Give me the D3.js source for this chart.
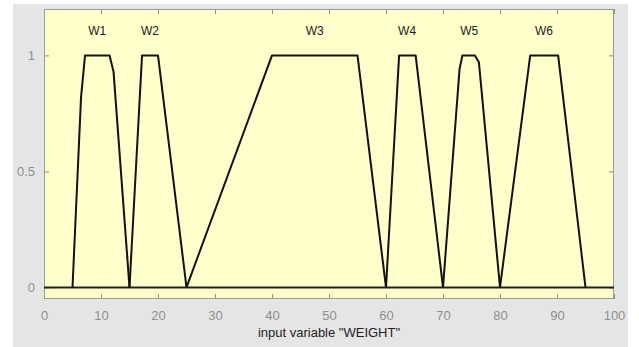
<!DOCTYPE html>
<html>
<head>
<meta charset="utf-8">
<script src="https://cdn.jsdelivr.net/npm/d3@7"></script>
<style>
  html, body { margin: 0; padding: 0; background: #fff; }
  svg { display: block; font-family: "Liberation Sans", Arial, sans-serif; }
</style>
</head>
<body>
<div id="container"></div>
<script>
// fonctions d'appartenance
const mfNames = ["W1", "W2", "W3", "W4", "W5", "W6"];
const mfX = [
    [5, 6.5, 7.2, 11.5, 12.2, 15],
    [15, 17.2, 20, 25],
    [25, 40, 55, 60],
    [60, 62.3, 65.2, 70],
    [70, 72.9, 73.4, 75.6, 76.3, 80],
    [80, 85.3, 90.2, 95]
];
const mfY = [
    [0, 0.82, 1, 1, 0.93, 0],
    [0, 1, 1, 0],
    [0, 1, 1, 0],
    [0, 1, 1, 0],
    [0, 0.94, 1, 1, 0.97, 0],
    [0, 1, 1, 0]
];
const labelX = [9.35, 18.6, 47.5, 63.7, 74.6, 87.7];
const xTicks = [0, 10, 20, 30, 40, 50, 60, 70, 80, 90, 100];
const yTicks = [0, 0.5, 1];
const xLabel = 'input variable "WEIGHT"';

const width = 639, height = 347;
const mLeft = 44, mRight = 614, mTop = 9, mBottom = 299;

const x = d3.scaleLinear().domain([0, 100]).range([mLeft, mRight]);
const y = d3.scaleLinear().domain([-0.05, 1.2]).range([mBottom, mTop]);

const svg = d3.select("#container").append("svg")
    .attr("width", width)
    .attr("height", height);

// fond gris de la figure
svg.append("rect")
    .attr("x", 13).attr("y", 4)
    .attr("width", 615).attr("height", height - 4)
    .attr("fill", "#e5e5e5");

// fond jaune des axes
svg.append("rect")
    .attr("x", mLeft).attr("y", mTop)
    .attr("width", mRight - mLeft).attr("height", mBottom - mTop)
    .attr("fill", "#ffffcc");

// axes (ticks vers l'intérieur)
const tickCol = "#8c8c8c";
const gx = svg.append("g")
    .attr("transform", `translate(0,${mBottom})`)
    .call(d3.axisBottom(x).tickValues(xTicks).tickSize(-5).tickPadding(12).tickFormat(d3.format("d")));
const gxTop = svg.append("g")
    .attr("transform", `translate(0,${mTop})`)
    .call(d3.axisTop(x).tickValues(xTicks).tickSize(-5).tickFormat(""));
const gy = svg.append("g")
    .attr("transform", `translate(${mLeft},0)`)
    .call(d3.axisLeft(y).tickValues(yTicks).tickSize(-5).tickPadding(9).tickFormat(d => d));
const gyRight = svg.append("g")
    .attr("transform", `translate(${mRight},0)`)
    .call(d3.axisRight(y).tickValues(yTicks).tickSize(-5).tickFormat(""));

for (const g of [gx, gxTop, gy, gyRight]) {
    g.select(".domain").remove();
    g.selectAll(".tick line").attr("stroke", tickCol);
    g.selectAll("text")
        .attr("fill", "#8f8f8f")
        .attr("font-size", 13)
        .attr("font-family", "Liberation Sans, Arial, sans-serif");
}

// cadre des axes
svg.append("rect")
    .attr("x", mLeft + 0.5).attr("y", mTop + 0.5)
    .attr("width", mRight - mLeft - 1).attr("height", mBottom - mTop - 1)
    .attr("fill", "none")
    .attr("stroke", "#9a9a9a");

// ligne y = 0
svg.append("line")
    .attr("x1", x(0)).attr("x2", x(100))
    .attr("y1", y(0)).attr("y2", y(0))
    .attr("stroke", "#222")
    .attr("stroke-width", 2);

// les fonctions
const line = d3.line().x(d => x(d[0])).y(d => y(d[1]));
const mfs = mfNames.map((name, i) => ({
    name: name,
    points: mfX[i].map((v, j) => [v, mfY[i][j]])
}));

svg.append("g")
    .selectAll("path")
    .data(mfs)
    .join("path")
    .attr("d", d => line(d.points))
    .attr("fill", "none")
    .attr("stroke", "#111")
    .attr("stroke-width", 2)
    .attr("stroke-linejoin", "round");

svg.append("g")
    .selectAll("text")
    .data(mfs)
    .join("text")
    .attr("x", (d, i) => x(labelX[i]))
    .attr("y", y(1.1))
    .attr("text-anchor", "middle")
    .attr("dominant-baseline", "middle")
    .attr("font-size", 12)
    .attr("fill", "#222")
    .text(d => d.name);

// titre de l'axe x
svg.append("text")
    .attr("x", (mLeft + mRight) / 2)
    .attr("y", 337)
    .attr("text-anchor", "middle")
    .attr("font-size", 13)
    .attr("fill", "#222")
    .text(xLabel);
</script>
</body>
</html>
